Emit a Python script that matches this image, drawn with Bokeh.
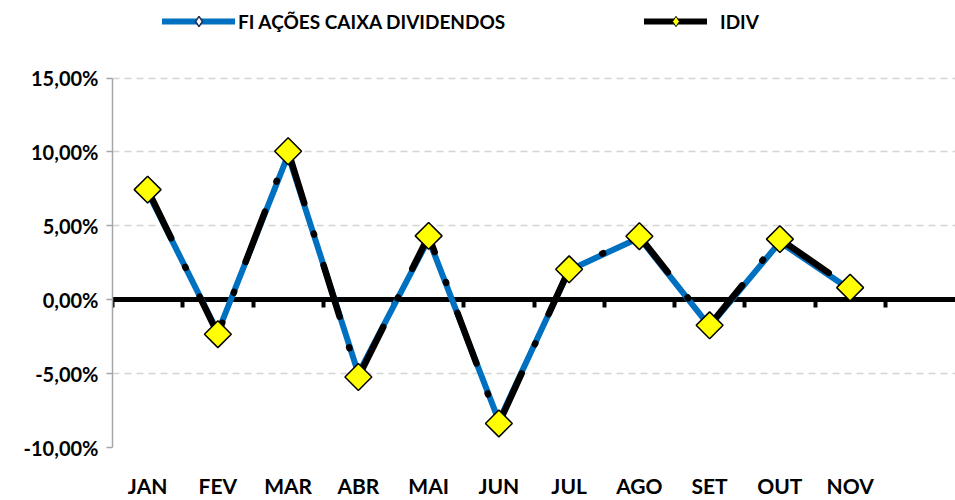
import math
from bokeh.plotting import figure
from bokeh.models import (ColumnDataSource, Range1d, FixedTicker, Legend, LinearAxis,
                          LegendItem, CustomJSTickFormatter)
from bokeh.embed import file_html
from bokeh.resources import INLINE

months = ["JAN", "FEV", "MAR", "ABR", "MAI", "JUN", "JUL", "AGO", "SET", "OUT", "NOV"]
n_slots = 12  # the axis keeps an empty slot for DEZ
fi_caixa = [7.30, -2.20, 9.80, -5.00, 4.10, -8.20, 2.00, 4.20, -1.80, 3.90, 0.70]
idiv = [7.45, -2.33, 10.05, -5.23, 4.32, -8.37, 2.06, 4.30, -1.73, 4.10, 0.82]
y_ticks = [-10, -5, 0, 5, 10, 15]
grid_ticks = [-10, -5, 5, 10, 15]

FONT = "Lato"
HEADROOM = 5.25  # extra value-range above the top tick that holds the legend
NAN = float("nan")

x = list(range(1, len(months) + 1))
src = ColumnDataSource(dict(x=x, fi=fi_caixa, idiv=idiv))
bounds = [i + 0.5 for i in range(n_slots)]
legend_src = ColumnDataSource(dict(x=[NAN], y=[NAN]))  # legend-only glyphs, nothing plotted

p = figure(width=955, height=500, output_backend="svg", toolbar_location=None,
           x_range=Range1d(0.5, n_slots + 0.5),
           y_range=Range1d(y_ticks[0], y_ticks[-1] + HEADROOM),
           min_border_left=112, min_border_right=0, min_border_top=0, min_border_bottom=45)
p.outline_line_color = None
p.background_fill_color = "white"
p.border_fill_color = "white"

# grid
p.xgrid.visible = False
p.ygrid.ticker = FixedTicker(ticks=grid_ticks)
p.ygrid.grid_line_color = "#d4d4d4"
p.ygrid.grid_line_width = 1.5
p.ygrid.grid_line_dash = "7 5"

# y axis
p.yaxis.ticker = FixedTicker(ticks=y_ticks)
p.yaxis.bounds = (y_ticks[0], y_ticks[-1])
p.yaxis.formatter = CustomJSTickFormatter(code="return tick.toFixed(2).replace('.', ',') + '%';")
p.yaxis.axis_line_color = "#a6a6a6"
p.yaxis.axis_line_width = 1.5
p.yaxis.major_tick_line_color = "#a6a6a6"
p.yaxis.major_tick_line_width = 1.5
p.yaxis.major_tick_out = 6
p.yaxis.major_tick_in = 0
p.yaxis.minor_tick_line_color = None
p.yaxis.major_label_standoff = 8
p.yaxis.major_label_text_font = FONT
p.yaxis.major_label_text_font_style = "bold"
p.yaxis.major_label_text_font_size = "20px"
p.yaxis.major_label_text_color = "black"

# x axis (labels only)
p.xaxis.ticker = FixedTicker(ticks=x)
p.xaxis.major_label_overrides = {i: m for i, m in zip(x, months)}
p.xaxis.axis_line_color = None
p.xaxis.major_tick_line_color = None
p.xaxis.minor_tick_line_color = None
p.xaxis.major_label_standoff = 19
p.xaxis.major_label_text_font = FONT
p.xaxis.major_label_text_font_style = "bold"
p.xaxis.major_label_text_font_size = "21px"
p.xaxis.major_label_text_color = "black"

# category axis crossing at zero, with tick marks between categories
zero_axis = LinearAxis(fixed_location=0, ticker=FixedTicker(ticks=bounds), level="underlay",
                       axis_line_color="black", axis_line_width=5,
                       major_tick_line_color="black", major_tick_line_width=4,
                       major_tick_out=8, major_tick_in=0, minor_tick_line_color=None,
                       major_label_text_font_size="0px")
zero_axis.major_label_overrides = {b: "" for b in bounds}
p.add_layout(zero_axis, "below")

# series
blue_line = p.line("x", "fi", source=src, line_color="#0070c0", line_width=6,
                   line_join="round", line_cap="round")
p.scatter("x", "fi", source=src, marker="square", size=7, angle=math.pi / 4,
          fill_color="white", line_color="#1f2d50", line_width=1.5)
p.line("x", "idiv", source=src, line_color="black", line_width=6.5,
       line_dash="54 32 1 32", line_cap="round", line_join="round")
p.scatter("x", "idiv", source=src, marker="square", size=19, angle=math.pi / 4,
          fill_color="#ffff00", line_color="black", line_width=1.5)

# legend-only glyphs
lg_blue_mk = p.scatter("x", "y", source=legend_src, marker="diamond", size=8,
                       fill_color="white", line_color="#1f2d50", line_width=1.5)
lg_black = p.line("x", "y", source=legend_src, line_color="black", line_width=6, line_cap="round")
lg_yellow_mk = p.scatter("x", "y", source=legend_src, marker="diamond", size=8,
                         fill_color="#ffff00", line_color="black", line_width=1)


def make_legend(label, renderers, loc, gw, standoff):
    lg = Legend(items=[LegendItem(label=label, renderers=renderers)], location=loc,
                orientation="horizontal", glyph_width=gw, glyph_height=26, label_height=26,
                label_standoff=standoff, padding=0, margin=0, border_line_color=None,
                background_fill_alpha=0, label_text_font=FONT, label_text_font_style="bold",
                label_text_font_size="19px", label_text_color="black")
    p.add_layout(lg)


make_legend("FI AÇÕES CAIXA DIVIDENDOS", [blue_line, lg_blue_mk], (50, 413), 73, 3)
make_legend("IDIV", [lg_black, lg_yellow_mk], (532, 413), 63, 13)

open("out.html", "w").write(file_html(p, INLINE))
